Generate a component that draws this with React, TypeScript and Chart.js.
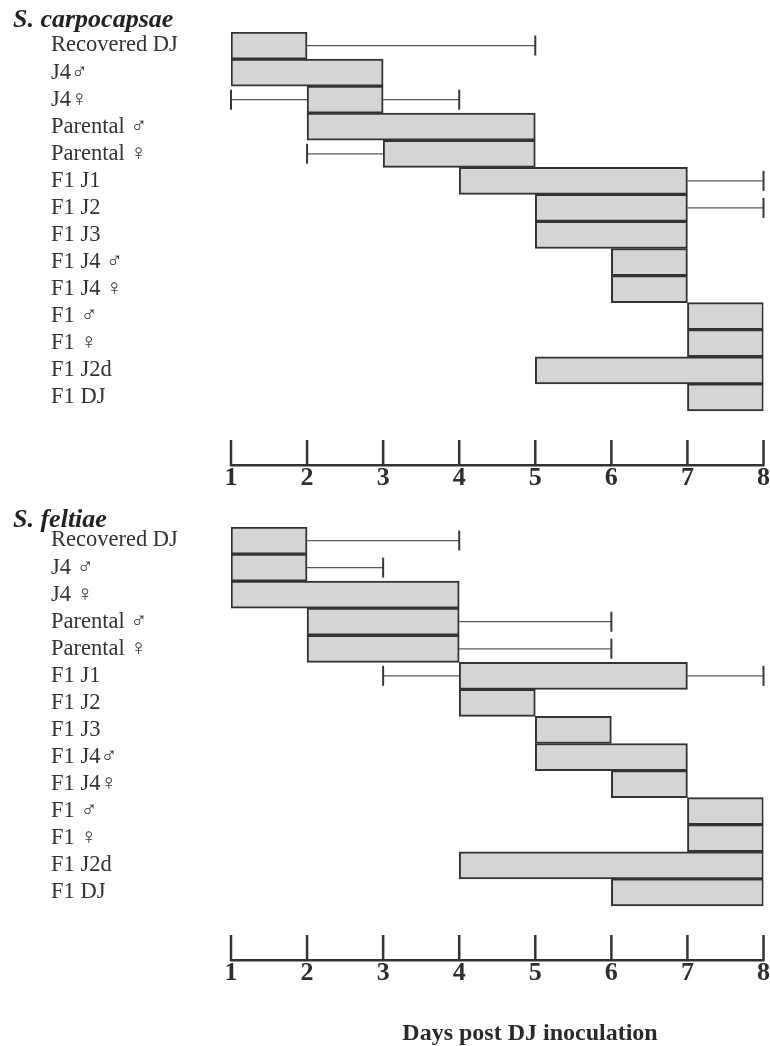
import React, { useEffect, useRef } from 'react';
import { Chart, registerables } from 'chart.js';

Chart.register(...registerables);

const FONT = "'Liberation Serif', 'Times New Roman', 'DejaVu Serif', serif";

// Row labels (stages)
const carpoLabels = [
  'Recovered DJ', 'J4♂', 'J4♀', 'Parental ♂', 'Parental ♀', 'F1 J1', 'F1 J2',
  'F1 J3', 'F1 J4 ♂', 'F1 J4 ♀', 'F1 ♂', 'F1 ♀', 'F1 J2d', 'F1 DJ',
];
const feltLabels = [
  'Recovered DJ', 'J4 ♂', 'J4 ♀', 'Parental ♂', 'Parental ♀', 'F1 J1', 'F1 J2',
  'F1 J3', 'F1 J4♂', 'F1 J4♀', 'F1 ♂', 'F1 ♀', 'F1 J2d', 'F1 DJ',
];

// Day tick labels
const dayTicks = [1, 2, 3, 4, 5, 6, 7, 8];

// S. carpocapsae
const carpoStart = [1, 1, 2, 2, 3, 4, 5, 5, 6, 6, 7, 7, 5, 7];
const carpoEnd = [2, 3, 3, 5, 5, 7, 7, 7, 7, 7, 8, 8, 8, 8];
const carpoErrLow = [null, null, 1, null, 2, null, null, null, null, null, null, null, null, null];
const carpoErrHigh = [5, null, 4, null, null, 8, 8, null, null, null, null, null, null, null];

// S. feltiae
const feltStart = [1, 1, 1, 2, 2, 4, 4, 5, 5, 6, 7, 7, 4, 6];
const feltEnd = [2, 2, 4, 4, 4, 7, 5, 6, 7, 7, 8, 8, 8, 8];
const feltErrLow = [null, null, null, null, null, 3, null, null, null, null, null, null, null, null];
const feltErrHigh = [4, 3, null, 6, 6, 8, null, null, null, null, null, null, null, null];

type PanelProps = {
  title: string;
  labels: string[];
  start: number[];
  end: number[];
  errLow: (number | null)[];
  errHigh: (number | null)[];
  top: number;
  height: number;
  padTop: number;
  xHeight: number;
  axisTitle?: string;
};

function Panel(props: PanelProps) {
  const ref = useRef<HTMLCanvasElement | null>(null);
  useEffect(() => {
    const canvas = ref.current;
    if (!canvas) return;
    const { title, labels, start, end, errLow, errHigh, padTop, xHeight, axisTitle } = props;
    const allLabels = [...labels, '', ''];
    const data: any[] = labels.map((_, i) => [start[i], end[i]]);
    data.push(null, null);

    const decorPlugin = {
      id: 'decor',
      beforeDatasetsDraw(chart: any) {
        const ctx = chart.ctx;
        const x = chart.scales.x;
        const y = chart.scales.y;
        ctx.save();
        for (let i = 0; i < labels.length; i++) {
          const cy = y.getPixelForValue(i);
          const segs: { from: number; to: number; cap: number }[] = [];
          if (errLow[i] != null) segs.push({ from: errLow[i] as number, to: start[i], cap: errLow[i] as number });
          if (errHigh[i] != null) segs.push({ from: end[i], to: errHigh[i] as number, cap: errHigh[i] as number });
          for (const s of segs) {
            const xa = x.getPixelForValue(s.from);
            const xb = x.getPixelForValue(s.to);
            const xc = x.getPixelForValue(s.cap);
            ctx.strokeStyle = '#5a5a5a';
            ctx.lineWidth = 1.3;
            ctx.beginPath();
            ctx.moveTo(xa, cy);
            ctx.lineTo(xb, cy);
            ctx.stroke();
            ctx.strokeStyle = '#383838';
            ctx.lineWidth = 2;
            ctx.beginPath();
            ctx.moveTo(xc, cy - 10);
            ctx.lineTo(xc, cy + 10);
            ctx.stroke();
          }
        }
        ctx.restore();
      },
      afterDraw(chart: any) {
        const ctx = chart.ctx;
        const x = chart.scales.x;
        const bottom = chart.chartArea.bottom;
        ctx.save();
        ctx.strokeStyle = '#333';
        ctx.lineWidth = 2.5;
        for (const t of x.ticks) {
          const px = x.getPixelForValue(t.value);
          ctx.beginPath();
          ctx.moveTo(px, bottom + 1);
          ctx.lineTo(px, bottom - 25);
          ctx.stroke();
        }
        ctx.fillStyle = '#222';
        ctx.textBaseline = 'alphabetic';
        ctx.textAlign = 'left';
        ctx.font = `italic bold 26px ${FONT}`;
        ctx.fillText(title, 13, 27);
        if (axisTitle) {
          ctx.textAlign = 'center';
          ctx.font = `bold 24px ${FONT}`;
          ctx.fillStyle = '#2a2a2a';
          ctx.fillText(axisTitle, 530, chart.height - 6);
        }
        ctx.restore();
      },
    };

    const chart = new Chart(canvas, {
      type: 'bar',
      data: {
        labels: allLabels,
        datasets: [
          {
            data: data,
            backgroundColor: '#d5d5d5',
            borderColor: '#333333',
            borderWidth: 2,
            borderSkipped: false,
            barPercentage: 1,
            categoryPercentage: 1,
          },
        ],
      },
      options: {
        responsive: false,
        animation: false,
        indexAxis: 'y',
        layout: { padding: { left: 51, right: 6, top: padTop, bottom: 0 } },
        plugins: { legend: { display: false }, tooltip: { enabled: false }, title: { display: false } },
        scales: {
          x: {
            type: 'linear',
            position: 'bottom',
            min: dayTicks[0],
            max: dayTicks[dayTicks.length - 1],
            afterBuildTicks: (s: any) => {
              s.ticks = dayTicks.map((v) => ({ value: v }));
            },
            afterFit: (s: any) => {
              s.height = xHeight;
            },
            grid: { display: true, drawOnChartArea: false, drawTicks: false },
            border: { display: true, color: '#333', width: 2.5 },
            ticks: {
              padding: 0,
              color: '#2e2e2e',
              font: { family: FONT, size: 26, weight: 'bold', lineHeight: 1 },
              maxRotation: 0,
              autoSkip: false,
            },
          },
          y: {
            type: 'category',
            afterFit: (s: any) => {
              s.width = 180;
            },
            grid: { display: false },
            border: { display: false },
            ticks: {
              crossAlign: 'far',
              padding: 0,
              autoSkip: false,
              color: '#333333',
              font: { family: FONT, size: 22.5 },
            },
          },
        },
      } as any,
      plugins: [decorPlugin],
    });
    return () => chart.destroy();
  }, []);

  return (
    <div style={{ position: 'absolute', left: 0, top: props.top, width: 770, height: props.height }}>
      <canvas ref={ref} width={770} height={props.height} style={{ display: 'block' }} />
    </div>
  );
}

export default function App() {
  return (
    <div style={{ position: 'absolute', left: 0, top: 0, width: 770, height: 1046, background: '#fff' }}>
      <Panel
        title="S. carpocapsae"
        labels={carpoLabels}
        start={carpoStart}
        end={carpoEnd}
        errLow={carpoErrLow}
        errHigh={carpoErrHigh}
        top={0}
        height={500}
        padTop={32}
        xHeight={35}
      />
      <Panel
        title="S. feltiae"
        labels={feltLabels}
        start={feltStart}
        end={feltEnd}
        errLow={feltErrLow}
        errHigh={feltErrHigh}
        top={500}
        height={546}
        padTop={27}
        xHeight={86}
        axisTitle="Days post DJ inoculation"
      />
    </div>
  );
}
